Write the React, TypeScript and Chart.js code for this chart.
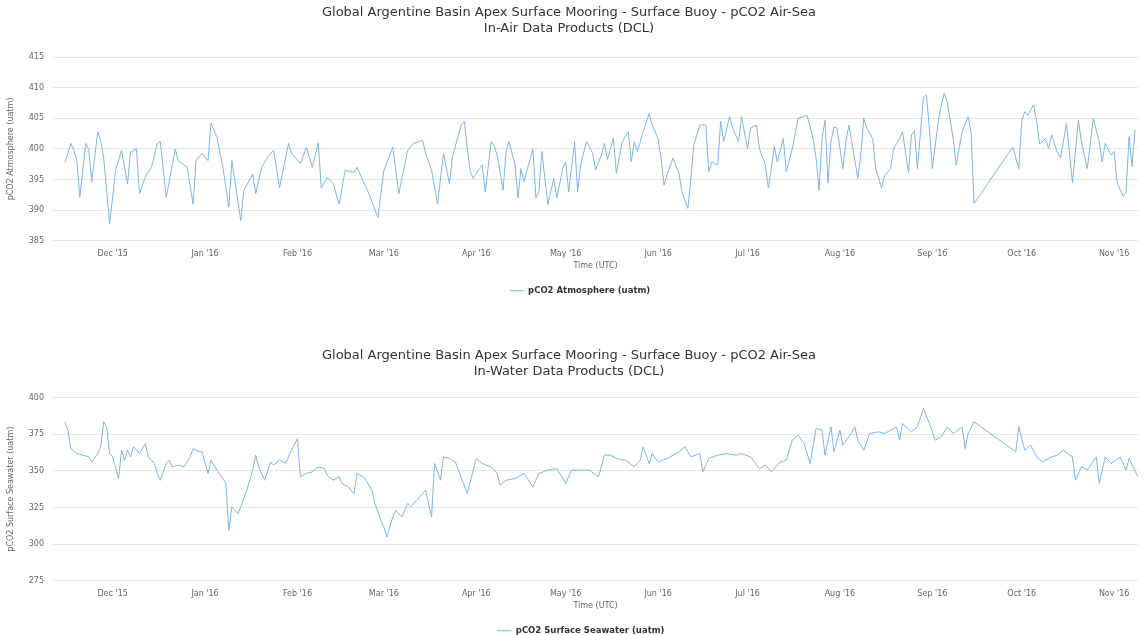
import React, { useEffect, useRef } from 'react';
import { Chart, registerables } from 'chart.js';

Chart.register(...registerables);

const FONT = '"DejaVu Sans", Verdana, sans-serif';
const LINE_COLOR = '#7cb5ec';

const chartTitleLine1 = 'Global Argentine Basin Apex Surface Mooring - Surface Buoy - pCO2 Air-Sea';
const airTitleLine2 = 'In-Air Data Products (DCL)';
const waterTitleLine2 = 'In-Water Data Products (DCL)';
const xAxisTitle = 'Time (UTC)';
const airSeriesName = 'pCO2 Atmosphere (uatm)';
const waterSeriesName = 'pCO2 Surface Seawater (uatm)';

const axisStart = '2015-11-11';
const axisEnd = '2016-11-09';

const monthTicks = [
  '2015-12-01', '2016-01-01', '2016-02-01', '2016-03-01', '2016-04-01', '2016-05-01',
  '2016-06-01', '2016-07-01', '2016-08-01', '2016-09-01', '2016-10-01', '2016-11-01',
];
const monthTickLabels = [
  "Dec '15", "Jan '16", "Feb '16", "Mar '16", "Apr '16", "May '16",
  "Jun '16", "Jul '16", "Aug '16", "Sep '16", "Oct '16", "Nov '16",
];

const airYTicks = [385, 390, 395, 400, 405, 410, 415];
const waterYTicks = [275, 300, 325, 350, 375, 400];

const airDates = [
  '2015-11-15', '2015-11-17', '2015-11-18', '2015-11-19', '2015-11-20', '2015-11-22', '2015-11-23', '2015-11-24',
  '2015-11-26', '2015-11-27', '2015-11-28', '2015-11-30', '2015-12-02', '2015-12-04', '2015-12-06', '2015-12-07',
  '2015-12-09', '2015-12-10', '2015-12-12', '2015-12-14', '2015-12-16', '2015-12-17', '2015-12-19', '2015-12-22',
  '2015-12-23', '2015-12-26', '2015-12-28', '2015-12-29', '2015-12-31', '2016-01-02', '2016-01-03', '2016-01-05',
  '2016-01-07', '2016-01-09', '2016-01-10', '2016-01-13', '2016-01-14', '2016-01-17', '2016-01-18', '2016-01-20',
  '2016-01-22', '2016-01-24', '2016-01-26', '2016-01-29', '2016-01-30', '2016-02-02', '2016-02-04', '2016-02-06',
  '2016-02-08', '2016-02-09', '2016-02-11', '2016-02-13', '2016-02-15', '2016-02-17', '2016-02-20', '2016-02-21',
  '2016-02-23', '2016-02-25', '2016-02-28', '2016-03-01', '2016-03-04', '2016-03-06', '2016-03-09', '2016-03-11',
  '2016-03-14', '2016-03-15', '2016-03-17', '2016-03-19', '2016-03-21', '2016-03-23', '2016-03-24', '2016-03-27',
  '2016-03-28', '2016-03-29', '2016-03-30', '2016-03-31', '2016-04-02', '2016-04-03', '2016-04-04', '2016-04-06',
  '2016-04-07', '2016-04-08', '2016-04-10', '2016-04-11', '2016-04-12', '2016-04-14', '2016-04-15', '2016-04-16',
  '2016-04-17', '2016-04-20', '2016-04-21', '2016-04-22', '2016-04-23', '2016-04-25', '2016-04-27', '2016-04-28',
  '2016-04-30', '2016-05-01', '2016-05-02', '2016-05-04', '2016-05-05', '2016-05-06', '2016-05-08', '2016-05-10',
  '2016-05-11', '2016-05-13', '2016-05-14', '2016-05-15', '2016-05-17', '2016-05-18', '2016-05-20', '2016-05-22',
  '2016-05-23', '2016-05-24', '2016-05-25', '2016-05-27', '2016-05-29', '2016-05-30', '2016-06-01', '2016-06-02',
  '2016-06-03', '2016-06-04', '2016-06-06', '2016-06-08', '2016-06-09', '2016-06-11', '2016-06-12', '2016-06-13',
  '2016-06-15', '2016-06-17', '2016-06-18', '2016-06-19', '2016-06-21', '2016-06-22', '2016-06-23', '2016-06-25',
  '2016-06-26', '2016-06-28', '2016-06-29', '2016-07-01', '2016-07-02', '2016-07-04', '2016-07-05', '2016-07-07',
  '2016-07-08', '2016-07-10', '2016-07-11', '2016-07-13', '2016-07-14', '2016-07-16', '2016-07-18', '2016-07-20',
  '2016-07-21', '2016-07-23', '2016-07-24', '2016-07-25', '2016-07-26', '2016-07-27', '2016-07-28', '2016-07-29',
  '2016-07-30', '2016-07-31', '2016-08-02', '2016-08-03', '2016-08-04', '2016-08-05', '2016-08-07', '2016-08-08',
  '2016-08-09', '2016-08-10', '2016-08-12', '2016-08-13', '2016-08-15', '2016-08-16', '2016-08-18', '2016-08-19',
  '2016-08-21', '2016-08-22', '2016-08-24', '2016-08-25', '2016-08-26', '2016-08-27', '2016-08-29', '2016-08-30',
  '2016-08-31', '2016-09-01', '2016-09-03', '2016-09-04', '2016-09-05', '2016-09-06', '2016-09-08', '2016-09-09',
  '2016-09-11', '2016-09-13', '2016-09-14', '2016-09-15', '2016-09-28', '2016-09-30', '2016-10-01', '2016-10-02',
  '2016-10-03', '2016-10-05', '2016-10-06', '2016-10-07', '2016-10-09', '2016-10-10', '2016-10-11', '2016-10-13',
  '2016-10-14', '2016-10-16', '2016-10-18', '2016-10-20', '2016-10-21', '2016-10-23', '2016-10-25', '2016-10-27',
  '2016-10-28', '2016-10-29', '2016-10-31', '2016-11-01', '2016-11-02', '2016-11-04', '2016-11-05', '2016-11-06',
  '2016-11-07', '2016-11-08',
];
const airValues = [
  397.8, 400.9, 399.8, 398.1, 392.1, 400.9, 400.0, 394.6,
  402.8, 401.4, 398.5, 387.8, 396.5, 399.8, 394.3, 399.5,
  400.0, 392.7, 395.5, 397.0, 400.9, 401.2, 392.1, 400.0,
  398.1, 397.0, 391.0, 398.1, 399.3, 398.1, 404.2, 401.9,
  397.0, 390.5, 398.1, 388.3, 393.2, 395.9, 392.7, 397.0,
  398.7, 399.8, 393.7, 400.9, 399.3, 397.6, 400.3, 397.0,
  401.0, 393.6, 395.4, 394.3, 391.0, 396.5, 396.2, 397.0,
  394.8, 392.7, 388.8, 396.5, 400.3, 392.7, 399.8, 400.9,
  401.4, 399.3, 396.5, 391.0, 399.3, 394.3, 398.7, 404.0,
  404.5, 400.0, 396.3, 395.2, 396.8, 397.4, 393.0, 401.2,
  400.5, 399.0, 393.3, 399.6, 401.2, 397.4, 392.0, 396.8,
  394.7, 400.0, 392.0, 393.0, 399.6, 390.9, 395.2, 392.0,
  396.8, 397.9, 393.0, 401.2, 393.0, 397.4, 401.2, 399.4,
  396.6, 399.0, 400.9, 398.3, 401.7, 396.0, 401.2, 402.8,
  397.9, 401.2, 399.6, 402.8, 405.8, 403.9, 401.7, 398.5,
  394.1, 395.8, 398.5, 396.1, 393.0, 390.3, 395.2, 400.7,
  403.9, 403.9, 396.3, 397.9, 397.4, 404.5, 401.2, 405.3,
  403.4, 401.2, 405.3, 400.0, 403.4, 403.9, 400.0, 397.4,
  393.6, 400.4, 397.9, 401.7, 396.3, 400.0, 405.0, 405.3,
  405.5, 401.7, 398.5, 393.3, 401.7, 404.7, 394.5, 401.2,
  403.6, 403.4, 396.8, 401.2, 403.9, 401.2, 395.2, 399.0,
  405.0, 403.4, 401.7, 396.8, 393.6, 395.6, 396.8, 400.0,
  401.7, 402.8, 396.1, 402.3, 403.0, 396.8, 408.3, 408.8,
  403.4, 396.8, 404.5, 407.2, 409.1, 407.7, 401.7, 397.4,
  402.8, 405.3, 402.8, 391.1, 400.3, 396.8, 404.5, 406.1,
  405.5, 407.2, 404.5, 400.8, 401.7, 400.0, 402.3, 399.4,
  398.5, 404.2, 394.5, 404.7, 401.2, 396.8, 405.0, 401.2,
  397.9, 400.9, 399.0, 399.6, 394.5, 392.3, 392.9, 402.0,
  397.1, 403.1,
];

const waterDates = [
  '2015-11-15', '2015-11-16', '2015-11-17', '2015-11-19', '2015-11-21', '2015-11-23', '2015-11-24', '2015-11-26',
  '2015-11-27', '2015-11-28', '2015-11-29', '2015-11-30', '2015-12-01', '2015-12-03', '2015-12-04', '2015-12-05',
  '2015-12-06', '2015-12-07', '2015-12-08', '2015-12-10', '2015-12-12', '2015-12-13', '2015-12-15', '2015-12-16',
  '2015-12-17', '2015-12-19', '2015-12-20', '2015-12-21', '2015-12-23', '2015-12-25', '2015-12-27', '2015-12-28',
  '2015-12-30', '2015-12-31', '2016-01-02', '2016-01-03', '2016-01-05', '2016-01-07', '2016-01-08', '2016-01-09',
  '2016-01-10', '2016-01-12', '2016-01-13', '2016-01-15', '2016-01-17', '2016-01-18', '2016-01-19', '2016-01-21',
  '2016-01-23', '2016-01-24', '2016-01-26', '2016-01-28', '2016-01-30', '2016-02-01', '2016-02-02', '2016-02-04',
  '2016-02-06', '2016-02-08', '2016-02-10', '2016-02-11', '2016-02-13', '2016-02-15', '2016-02-16', '2016-02-18',
  '2016-02-20', '2016-02-21', '2016-02-23', '2016-02-24', '2016-02-26', '2016-02-27', '2016-02-29', '2016-03-01',
  '2016-03-02', '2016-03-04', '2016-03-05', '2016-03-07', '2016-03-09', '2016-03-10', '2016-03-12', '2016-03-14',
  '2016-03-15', '2016-03-17', '2016-03-18', '2016-03-20', '2016-03-21', '2016-03-23', '2016-03-25', '2016-03-26',
  '2016-03-29', '2016-03-31', '2016-04-01', '2016-04-03', '2016-04-06', '2016-04-08', '2016-04-09', '2016-04-11',
  '2016-04-14', '2016-04-17', '2016-04-20', '2016-04-22', '2016-04-25', '2016-04-28', '2016-05-01', '2016-05-03',
  '2016-05-06', '2016-05-09', '2016-05-12', '2016-05-14', '2016-05-16', '2016-05-18', '2016-05-21', '2016-05-24',
  '2016-05-26', '2016-05-27', '2016-05-29', '2016-05-30', '2016-06-01', '2016-06-04', '2016-06-06', '2016-06-08',
  '2016-06-10', '2016-06-12', '2016-06-15', '2016-06-16', '2016-06-18', '2016-06-21', '2016-06-24', '2016-06-27',
  '2016-06-29', '2016-07-02', '2016-07-05', '2016-07-07', '2016-07-09', '2016-07-12', '2016-07-14', '2016-07-16',
  '2016-07-18', '2016-07-20', '2016-07-22', '2016-07-24', '2016-07-26', '2016-07-27', '2016-07-29', '2016-07-30',
  '2016-08-01', '2016-08-02', '2016-08-04', '2016-08-06', '2016-08-07', '2016-08-09', '2016-08-11', '2016-08-14',
  '2016-08-16', '2016-08-18', '2016-08-20', '2016-08-21', '2016-08-22', '2016-08-25', '2016-08-27', '2016-08-29',
  '2016-08-31', '2016-09-02', '2016-09-04', '2016-09-06', '2016-09-08', '2016-09-11', '2016-09-12', '2016-09-13',
  '2016-09-15', '2016-09-29', '2016-09-30', '2016-10-02', '2016-10-04', '2016-10-06', '2016-10-08', '2016-10-11',
  '2016-10-13', '2016-10-15', '2016-10-18', '2016-10-19', '2016-10-21', '2016-10-23', '2016-10-26', '2016-10-27',
  '2016-10-29', '2016-10-31', '2016-11-03', '2016-11-05', '2016-11-06', '2016-11-09',
];
const waterValues = [
  383.4, 377.7, 365.2, 361.8, 360.7, 359.5, 356.1, 361.8,
  366.4, 383.4, 380.0, 361.8, 359.5, 344.8, 364.1, 357.3,
  364.1, 359.5, 366.4, 361.8, 368.6, 359.5, 355.0, 348.2,
  343.6, 355.0, 357.3, 352.7, 353.9, 352.7, 359.5, 365.2,
  363.0, 363.0, 348.2, 357.3, 350.5, 344.8, 341.4, 309.5,
  325.5, 320.9, 325.5, 336.8, 350.5, 360.7, 352.7, 343.6,
  356.1, 353.9, 357.3, 355.0, 364.1, 372.0, 345.9, 348.2,
  349.3, 352.7, 351.6, 347.0, 343.6, 345.9, 341.4, 339.1,
  334.5, 348.2, 345.9, 343.6, 336.8, 327.7, 316.4, 311.8,
  305.0, 318.6, 323.2, 318.6, 327.7, 325.5, 330.0, 334.5,
  336.8, 318.6, 355.0, 343.6, 359.5, 358.4, 356.1, 350.5,
  334.5, 350.5, 358.4, 355.0, 352.7, 348.2, 340.2, 343.6,
  344.8, 348.2, 339.0, 348.2, 350.5, 351.6, 341.4, 350.5,
  350.5, 350.5, 345.9, 360.7, 360.7, 358.4, 357.3, 352.7,
  357.3, 366.4, 355.0, 361.8, 356.1, 358.4, 360.7, 363.0,
  366.4, 359.5, 361.8, 349.3, 358.4, 360.7, 361.8, 360.7,
  361.8, 359.5, 351.6, 353.9, 349.3, 356.1, 357.3, 370.9,
  374.3, 368.6, 355.0, 378.9, 377.7, 360.7, 380.0, 363.0,
  377.7, 367.5, 373.2, 380.0, 370.9, 364.1, 375.5, 376.6,
  375.5, 377.7, 380.0, 370.9, 382.3, 376.6, 380.0, 392.5,
  382.3, 370.9, 373.2, 380.0, 375.5, 380.0, 365.2, 375.5,
  383.4, 363.0, 380.0, 364.1, 367.5, 359.5, 356.1, 359.5,
  360.7, 364.1, 359.5, 343.6, 352.7, 350.5, 359.5, 341.4,
  359.5, 355.0, 359.5, 350.5, 358.4, 345.9,
];

const toTime = (s: string) => Date.parse(s + 'T00:00:00Z');

type Props = {
  titleLine2: string;
  yTitle: string;
  seriesName: string;
  dates: string[];
  values: number[];
  yTicks: number[];
  height: number;
  titlePadBottom: number;
  legendShiftX: number;
  legendShiftY: number;
};

function SeriesChart({
  titleLine2, yTitle, seriesName, dates, values, yTicks, height, titlePadBottom, legendShiftX, legendShiftY,
}: Props) {
  const ref = useRef<HTMLCanvasElement>(null);
  useEffect(() => {
    if (!ref.current) return;
    const tickTimes = monthTicks.map(toTime);
    const legendOffset = {
      id: 'legendOffset',
      afterLayout(chart: any) {
        if (chart.legend) {
          chart.legend.left += legendShiftX;
          chart.legend.right += legendShiftX;
          chart.legend.top += legendShiftY;
          chart.legend.bottom += legendShiftY;
        }
      },
    };
    const chart = new Chart(ref.current, {
      type: 'line',
      data: {
        datasets: [
          {
            label: seriesName,
            data: dates.map((d, i) => ({ x: toTime(d), y: values[i] })),
            borderColor: LINE_COLOR,
            backgroundColor: LINE_COLOR,
            borderWidth: 1,
            pointRadius: 0,
            tension: 0,
            fill: false,
          },
        ],
      },
      plugins: [legendOffset],
      options: {
        responsive: false,
        animation: false,
        devicePixelRatio: 1,
        layout: { padding: { left: 0, right: 6, top: 0, bottom: 0 } },
        plugins: {
          title: {
            display: true,
            text: [chartTitleLine1, titleLine2],
            color: '#333333',
            font: { family: FONT, size: 13, weight: 'normal', lineHeight: '16px' },
            padding: { top: 5, bottom: titlePadBottom },
          },
          legend: {
            position: 'bottom',
            labels: {
              usePointStyle: true,
              pointStyle: 'line',
              pointStyleWidth: 14,
              boxHeight: 8,
              padding: 14,
              color: '#333333',
              font: { family: FONT, size: 8.5, weight: 'bold' },
            },
          },
          tooltip: { enabled: false },
        },
        scales: {
          x: {
            type: 'linear',
            min: toTime(axisStart),
            max: toTime(axisEnd),
            grid: { display: false, drawTicks: false },
            border: { display: false },
            afterBuildTicks: (s: any) => {
              s.ticks = tickTimes.map((v) => ({ value: v }));
            },
            ticks: {
              autoSkip: false,
              maxRotation: 0,
              padding: 8,
              color: '#666666',
              font: { family: FONT, size: 8 },
              callback: (_v: any, i: number) => monthTickLabels[i] ?? '',
            },
            title: {
              display: true,
              text: xAxisTitle,
              color: '#666666',
              font: { family: FONT, size: 8, lineHeight: 1 },
              padding: { top: -5, bottom: 0 },
            },
          },
          y: {
            min: yTicks[0],
            max: yTicks[yTicks.length - 1],
            afterBuildTicks: (s: any) => {
              s.ticks = yTicks.map((v) => ({ value: v }));
            },
            afterFit: (s: any) => {
              s.width = 53;
            },
            grid: { color: '#e6e6e6', drawTicks: false },
            border: { display: false },
            ticks: {
              padding: 9,
              color: '#666666',
              font: { family: FONT, size: 8 },
              callback: (v: any) => String(v),
            },
            title: {
              display: true,
              text: yTitle,
              color: '#666666',
              font: { family: FONT, size: 8 },
              padding: { top: 6, bottom: 0 },
            },
          },
        },
      },
    });
    return () => chart.destroy();
  }, []);
  return <canvas ref={ref} width={1144} height={height} style={{ display: 'block', width: 1144, height }} />;
}

export default function App() {
  return (
    <div
      style={{
        position: 'absolute',
        left: 0,
        top: 0,
        width: 1144,
        height: 635,
        overflow: 'hidden',
        background: '#ffffff',
      }}
    >
      <div style={{ position: 'absolute', left: 0, top: 0 }}>
        <SeriesChart
          titleLine2={airTitleLine2}
          yTitle={airSeriesName}
          seriesName={airSeriesName}
          dates={airDates}
          values={airValues}
          yTicks={airYTicks}
          height={302}
          titlePadBottom={20}
          legendShiftX={11}
          legendShiftY={3}
        />
      </div>
      <div style={{ position: 'absolute', left: 0, top: 343 }}>
        <SeriesChart
          titleLine2={waterTitleLine2}
          yTitle={waterSeriesName}
          seriesName={waterSeriesName}
          dates={waterDates}
          values={waterValues}
          yTicks={waterYTicks}
          height={299}
          titlePadBottom={17.5}
          legendShiftX={12}
          legendShiftY={3}
        />
      </div>
    </div>
  );
}
